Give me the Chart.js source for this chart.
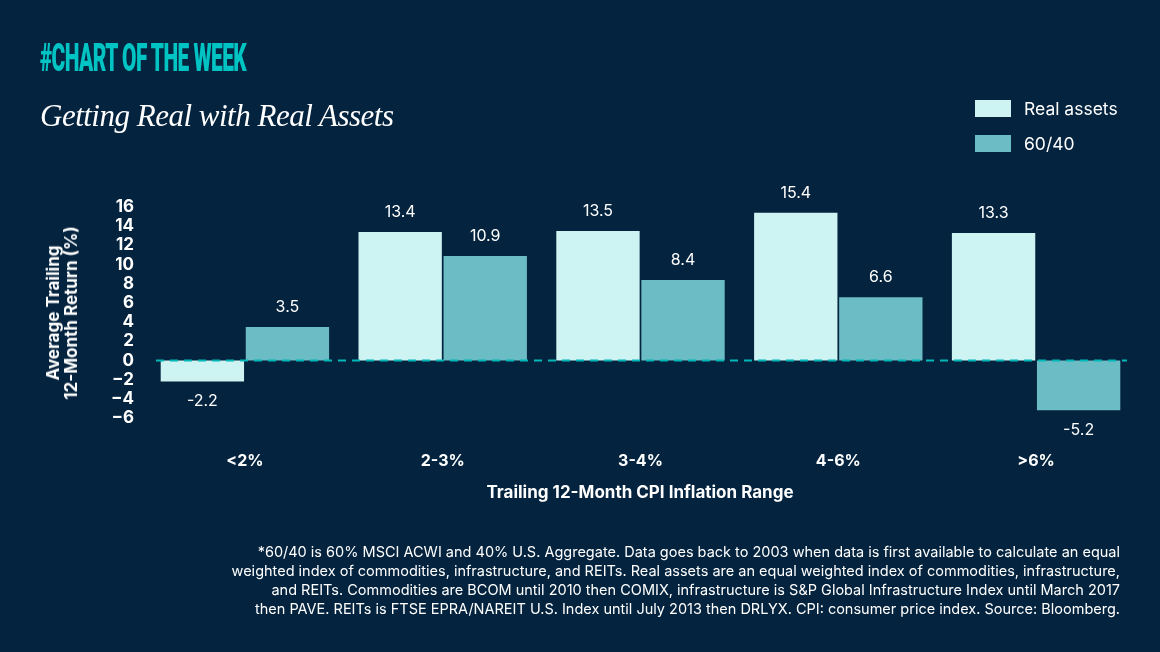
<!DOCTYPE html>
<html><head><meta charset="utf-8">
<script src="https://cdn.jsdelivr.net/npm/chart.js@4"></script>
<style>
body{margin:0;background:#04233e;width:1160px;height:652px;overflow:hidden;font-family:"Inter","Noto Sans",sans-serif;color:#fff}
#wrap{position:relative;width:1160px;height:652px}
canvas{position:absolute;left:0;top:0}
.t{position:absolute;white-space:nowrap}
#h{left:40px;top:36px;font:900 38px "Roboto",sans-serif;color:#00c4c4;letter-spacing:-1px;transform:scaleX(0.55);transform-origin:left top}
#ti{left:40px;top:98px;font:italic 31px "Liberation Serif",serif;letter-spacing:-0.5px}
.lg{position:absolute;left:975px;width:36px;height:17px}
.lt{position:absolute;left:1024px;font-size:17.5px}
#yt{left:62px;top:313px;transform:translate(-50%,-50%) rotate(-90deg);font-weight:bold;font-size:17px;text-align:center;line-height:18px}
#xt{left:640px;top:492px;transform:translate(-50%,-50%);font-weight:bold;font-size:17px}
#fn{right:40px;top:542px;text-align:right;font-size:14.5px;line-height:19px}
</style></head><body><div id="wrap">
<canvas id="c" width="1160" height="652"></canvas>
<div class="t" id="h">#CHART OF THE WEEK</div>
<div class="t" id="ti">Getting Real with Real Assets</div>
<div class="lg" style="top:100px;background:#cdf3f2"></div><div class="t lt" style="top:98px">Real assets</div>
<div class="lg" style="top:135px;background:#6bbcc5"></div><div class="t lt" style="top:133px">60/40</div>
<div class="t" id="yt">Average Trailing<br>12-Month Return (%)</div>
<div class="t" id="xt">Trailing 12-Month CPI Inflation Range</div>
<div class="t" id="fn">*60/40 is 60% MSCI ACWI and 40% U.S. Aggregate. Data goes back to 2003 when data is first available to calculate an equal<br>weighted index of commodities, infrastructure, and REITs. Real assets are an equal weighted index of commodities, infrastructure,<br>and REITs. Commodities are BCOM until 2010 then COMIX, infrastructure is S&amp;P Global Infrastructure Index until March 2017<br>then PAVE. REITs is FTSE EPRA/NAREIT U.S. Index until July 2013 then DRLYX. CPI: consumer price index. Source: Bloomberg.</div>
</div>
<script>
const categories=["<2%","2-3%","3-4%","4-6%",">6%"];
const realAssets=[-2.2,13.4,13.5,15.4,13.3];
const sixtyForty=[3.5,10.9,8.4,6.6,-5.2];
const yTicks=[16,14,12,10,8,6,4,2,0,-2,-4,-6];

const labels={id:'labels',afterDatasetsDraw(ch){const c=ch.ctx;c.save();c.fillStyle='#fff';c.font='16px Inter, sans-serif';c.textAlign='center';
ch.data.datasets.forEach((d,i)=>{ch.getDatasetMeta(i).data.forEach((b,j)=>{const v=d.data[j];
c.textBaseline=v>=0?'bottom':'top';c.fillText(v.toFixed(1),b.x,v>=0?b.y-12:b.y+12);});});c.restore();}};
const zero={id:'zero',afterDatasetsDraw(ch){const c=ch.ctx,y=ch.scales.y.getPixelForValue(0),a=ch.chartArea;c.save();c.strokeStyle='#00b8b8';c.lineWidth=2;c.setLineDash([8,6]);c.beginPath();c.moveTo(a.left+10,y);c.lineTo(a.right-8,y);c.stroke();c.restore();}};

new Chart(document.getElementById('c'),{type:'bar',
data:{labels:categories,datasets:[
{label:'Real assets',data:realAssets,backgroundColor:'#cdf3f2'},
{label:'60/40',data:sixtyForty,backgroundColor:'#6bbcc5'}]},
options:{responsive:false,animation:false,devicePixelRatio:1,
layout:{padding:{top:207,right:25,left:0,bottom:0}},
plugins:{legend:{display:false},tooltip:{enabled:false}},
datasets:{bar:{categoryPercentage:0.86,barPercentage:0.98}},
scales:{
x:{grid:{display:false},border:{display:false},ticks:{color:'#fff',font:{size:16,weight:'bold',family:'Inter'},padding:26},afterFit(s){s.height=234;}},
y:{min:-6,max:16,grid:{display:false},border:{display:false},
afterBuildTicks(s){s.ticks=yTicks.map(v=>({value:v}));},
ticks:{color:'#fff',autoSkip:false,font:{size:17,weight:'bold',family:'Inter'},padding:4,callback:v=>v<0?'\u2212'+(-v):v},
afterFit(s){s.width=146;}}}},
plugins:[labels,zero]});
</script></body></html>
